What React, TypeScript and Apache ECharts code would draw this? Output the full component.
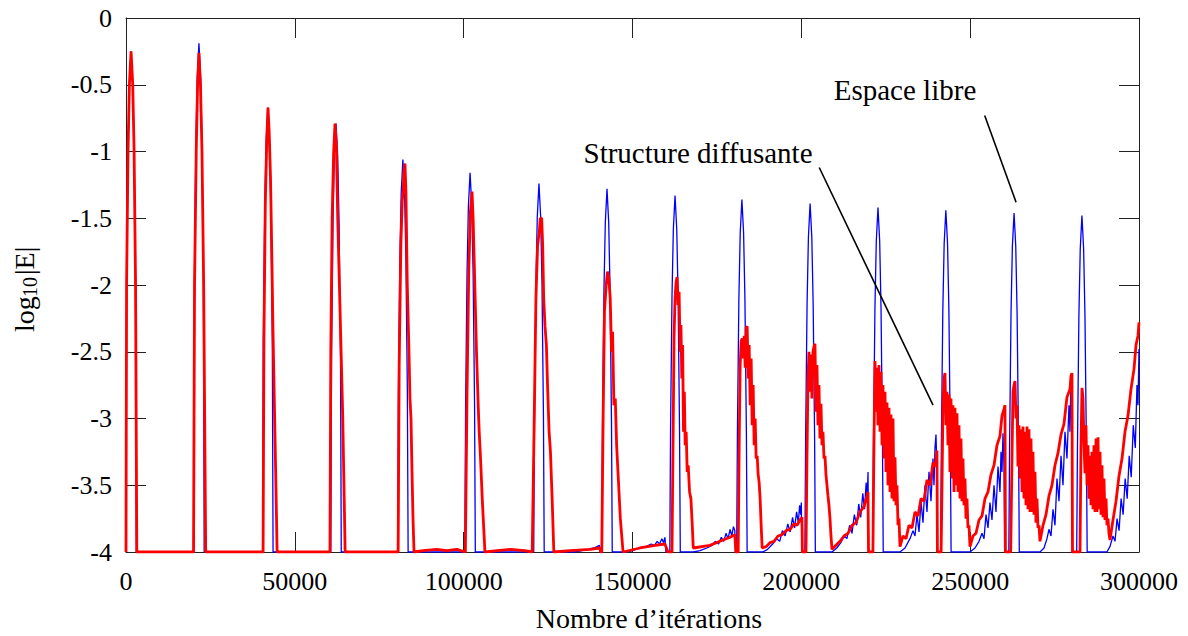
import React, { useEffect, useRef } from "react";
import * as echarts from "echarts";

// Axis ranges / ticks
const xMin = 0;
const xMax = 300000;
const xStep = 50000;
const yMin = -4;
const yMax = 0;
const yStep = 0.5;

// Annotation texts
const labelStructure = "Structure diffusante";
const labelEspace = "Espace libre";
const xAxisTitle = "Nombre d’itérations";

// Annotation anchor points (data coords): [textX, textY, lineStartX, lineStartY, lineEndX, lineEndY]
const annotStructure = [169400, -1.01, 205300, -1.12, 239000, -2.9];
const annotEspace = [230700, -0.54, 254300, -0.73, 263600, -1.38];

// Espace libre (blue)
const espaceLibre: [number, number][] = [
  [0, -4], [170, -2.0], [600, -1.0], [1000, -0.5], [1500, -0.25], [2000, -0.5], [2400, -1.0], [2830, -2.0], [3050, -4],
  [20050, -4], [20270, -1.94], [20700, -0.94], [21100, -0.44], [21600, -0.19], [22100, -0.44], [22500, -0.94], [22930, -1.94], [23150, -4],
  [40450, -4], [40670, -2.42], [41100, -1.42], [41500, -0.92], [42000, -0.67], [42500, -0.92], [42900, -1.42], [43330, -2.42], [43550, -4],
  [60650, -4], [60870, -2.54], [61300, -1.54], [61700, -1.04], [62200, -0.79], [62700, -1.04], [63100, -1.54], [63530, -2.54], [63750, -4],
  [80450, -4], [80670, -2.81], [81100, -1.81], [81500, -1.31], [82000, -1.06], [82500, -1.31], [82900, -1.81], [83330, -2.81], [83550, -4],
  [100350, -4], [100570, -2.91], [101000, -1.91], [101400, -1.41], [101900, -1.16], [102400, -1.41], [102800, -1.91], [103230, -2.91], [103450, -4],
  [120750, -4], [120970, -2.99], [121400, -1.99], [121800, -1.49], [122300, -1.24], [122800, -1.49], [123200, -1.99], [123630, -2.99], [123850, -4],
  [133000, -4], [135000, -3.99], [137000, -3.98], [138500, -3.97], [139500, -3.96], [140200, -3.95], [140400, -4],
  [140900, -4], [141120, -3.03], [141550, -2.03], [141950, -1.53], [142450, -1.28], [142950, -1.53], [143350, -2.03], [143780, -3.03], [144000, -4],
  [148400, -4], [150000, -3.99], [152000, -3.97], [154000, -3.96], [155500, -3.94], [156500, -3.95], [157300, -3.92], [158000, -3.94], [158700, -3.9], [159200, -3.93], [159600, -3.89], [159900, -4],
  [161050, -4], [161270, -3.08], [161700, -2.08], [162100, -1.58], [162600, -1.33], [163100, -1.58], [163500, -2.08], [163930, -3.08], [164150, -4],
  [168000, -4], [170000, -3.99], [172000, -3.97], [173500, -3.95], [174500, -3.92], [175500, -3.94], [176300, -3.89], [177000, -3.92], [177700, -3.86], [178300, -3.9], [178900, -3.83], [179400, -3.88], [179900, -3.81], [180300, -3.84], [180500, -4],
  [180850, -4], [181070, -3.11], [181500, -2.11], [181900, -1.61], [182400, -1.36], [182900, -1.61], [183300, -2.11], [183730, -3.11], [183950, -4],
  [188600, -4], [190000, -3.98], [191500, -3.94], [192700, -3.9], [193600, -3.92], [194400, -3.84], [195200, -3.88], [196000, -3.79], [196700, -3.85], [197400, -3.74], [198000, -3.82], [198600, -3.7], [199100, -3.78], [199500, -3.65], [199800, -3.72], [200000, -3.63], [200150, -4],
  [201050, -4], [201270, -3.14], [201700, -2.14], [202100, -1.64], [202600, -1.39], [203100, -1.64], [203500, -2.14], [203930, -3.14], [204150, -4],
  [209100, -4], [210500, -3.97], [211700, -3.93], [212700, -3.88], [213500, -3.9], [214300, -3.8], [215000, -3.86], [215700, -3.72], [216400, -3.8], [217000, -3.64], [217600, -3.74], [218200, -3.56], [218700, -3.68], [219200, -3.48], [219500, -3.62], [219750, -3.4], [219900, -4],
  [221150, -4], [221370, -3.17], [221800, -2.17], [222200, -1.67], [222700, -1.42], [223200, -1.67], [223600, -2.17], [224030, -3.17], [224250, -4],
  [229220, -4], [230700, -3.97], [232180, -3.9], [233070, -3.84], [233660, -3.88], [234250, -3.72], [234850, -3.85], [235440, -3.62], [236030, -3.78], [236620, -3.5], [237210, -3.7], [237810, -3.4], [238400, -3.62], [238990, -3.3], [239290, -3.5], [239580, -3.22], [239880, -3.12], [240170, -3.4], [240300, -4],
  [241250, -4], [241470, -3.19], [241900, -2.19], [242300, -1.69], [242800, -1.44], [243300, -1.69], [243700, -2.19], [244130, -3.19], [244350, -4],
  [249950, -4], [251430, -3.97], [252620, -3.92], [253500, -3.86], [254100, -3.9], [254690, -3.72], [255280, -3.82], [255870, -3.63], [256460, -3.76], [257060, -3.5], [257650, -3.7], [258240, -3.36], [258830, -3.55], [259130, -3.25], [259420, -3.4], [259720, -3.11], [260010, -3.35], [260200, -4],
  [261450, -4], [261670, -3.21], [262100, -2.21], [262500, -1.71], [263000, -1.46], [263500, -1.71], [263900, -2.21], [264330, -3.21], [264550, -4],
  [270680, -4], [271870, -3.97], [272750, -3.9], [273340, -3.83], [273940, -3.88], [274530, -3.68], [275120, -3.8], [275710, -3.45], [276310, -3.62], [276900, -3.28], [277490, -3.5], [278080, -3.1], [278670, -3.3], [279270, -2.9], [279560, -3.1], [279860, -2.68], [280150, -3.2], [280300, -4],
  [281550, -4], [281770, -3.23], [282200, -2.23], [282600, -1.73], [283100, -1.48], [283600, -1.73], [284000, -2.23], [284430, -3.23], [284650, -4],
  [290500, -4], [291400, -3.96], [292300, -3.88], [292900, -3.92], [293500, -3.75], [294100, -3.84], [294700, -3.6], [295300, -3.72], [295900, -3.45], [296500, -3.6], [297100, -3.28], [297700, -3.44], [298300, -3.05], [298900, -3.22], [299400, -2.75], [299700, -2.9], [300000, -2.48],
];

// Structure diffusante (red)
const structureDiffusante: [number, number][] = [
  [0, -4], [170, -2.0], [600, -1.0], [1000, -0.5], [1500, -0.25], [2000, -0.5], [2400, -1.0], [2830, -2.0], [3200, -4],
  [20000, -4], [20300, -2.0], [20800, -1.0], [21200, -0.5], [21600, -0.26], [22050, -0.5], [22500, -1.0], [23000, -2.0], [23300, -3.0], [23600, -4],
  [40600, -4], [40850, -2.4], [41250, -1.4], [41700, -0.9], [42050, -0.67], [42400, -0.85], [42800, -1.2], [43200, -1.8], [43500, -2.3], [43800, -2.7], [44100, -3.1], [44400, -3.5], [44750, -4],
  [60400, -4], [60650, -2.5], [61050, -1.5], [61500, -1.0], [61900, -0.79], [62300, -0.95], [62700, -1.5], [63200, -2.0], [63700, -2.5], [64200, -3.0], [64550, -3.5], [64900, -4],
  [80600, -4], [80900, -2.6], [81400, -1.7], [81800, -1.37], [82100, -1.3], [82300, -1.15], [82620, -1.09], [82900, -1.3], [83300, -2.0], [83800, -2.5], [84100, -2.85], [84400, -3.0], [84700, -3.4], [85000, -3.75], [85300, -4],
  [88000, -3.99], [92000, -3.98], [95000, -3.99], [98000, -3.98], [100500, -4],
  [100700, -4], [101000, -2.8], [101500, -1.9], [102000, -1.45], [102470, -1.3], [102800, -1.5], [103300, -2.0], [103800, -2.5], [104300, -2.9], [104600, -3.1], [105000, -3.3], [105500, -3.6], [106300, -4],
  [110000, -3.99], [114000, -3.98], [118000, -3.99], [120300, -4],
  [120500, -4], [120900, -3.0], [121400, -2.1], [121900, -1.7], [122400, -1.6], [122700, -1.5], [123100, -1.5], [123400, -1.7], [123700, -2.1], [124100, -2.31], [124500, -2.45], [124900, -2.8], [125300, -3.1], [125700, -3.25], [126200, -3.6], [126700, -4],
  [131500, -3.99], [137400, -3.98], [140300, -3.97], [140600, -4],
  [140900, -4], [141300, -3.0], [141700, -2.2], [142200, -2.0], [142600, -1.9], [143000, -1.95], [143400, -2.1], [143800, -2.5], [144100, -2.35], [144500, -2.9], [144900, -2.85], [145300, -3.2], [145700, -3.4], [146400, -3.75], [147200, -4],
  [152200, -3.97], [156700, -3.95], [159600, -3.94], [160500, -4],
  [161700, -4], [162000, -3.2], [162300, -2.4], [162600, -2.1], [162900, -1.98], [163200, -1.94], [163500, -2.15], [163800, -2.05], [164100, -2.5], [164350, -2.3], [164600, -2.7], [164850, -2.45], [165100, -3.1], [165350, -2.8], [165600, -3.2], [165900, -3.1], [166200, -3.4], [166500, -3.35], [166900, -3.55], [167300, -3.6], [167700, -3.8], [168000, -3.97],
  [172900, -3.95], [175900, -3.92], [178900, -3.89], [180300, -3.87], [180600, -4],
  [181300, -4], [181590, -3.2], [181890, -2.6], [182180, -2.42], [182480, -2.4], [182780, -2.55], [183070, -2.38], [183370, -2.62], [183660, -2.32], [183960, -2.31], [184260, -2.7], [184550, -2.45], [184850, -2.9], [185140, -2.55], [185440, -3.05], [185740, -2.75], [186030, -3.2], [186330, -3.0], [186620, -3.3], [186920, -3.28], [187220, -3.42], [187510, -3.48], [187810, -3.61], [188100, -3.8], [188400, -3.97],
  [189540, -3.96], [190720, -3.93], [191910, -3.92], [193090, -3.88], [194280, -3.87], [195460, -3.84], [196640, -3.83], [197830, -3.79], [198720, -3.8], [199600, -3.76], [200190, -3.74], [200300, -4],
  [201380, -4], [201670, -3.3], [201970, -2.7], [202260, -2.5], [202560, -2.8], [202860, -2.52], [203150, -2.85], [203450, -2.5], [203750, -2.46], [204040, -2.44], [204340, -2.95], [204630, -2.6], [204930, -3.05], [205230, -2.75], [205520, -3.15], [205820, -2.89], [206120, -3.2], [206410, -3.1], [206710, -3.3], [207000, -3.28], [207300, -3.42], [207600, -3.5], [207890, -3.58], [208190, -3.65], [208490, -3.75], [208780, -3.88], [209080, -3.98],
  [210260, -3.95], [211450, -3.92], [212630, -3.88], [213820, -3.86], [215000, -3.8], [216190, -3.78], [217370, -3.7], [218560, -3.66], [219450, -3.58], [219740, -3.55], [219900, -4],
  [221200, -4], [221500, -3.2], [221820, -2.57], [222110, -2.95], [222410, -2.62], [222700, -3.05], [223000, -2.6], [223300, -3.1], [223590, -2.65], [223890, -3.2], [224180, -2.75], [224480, -3.3], [224780, -2.8], [225070, -3.4], [225370, -2.88], [225670, -3.5], [225960, -2.92], [226260, -3.55], [226550, -2.97], [226850, -3.6], [227150, -3.0], [227440, -3.62], [227740, -3.29], [228040, -3.65], [228330, -3.5], [228630, -3.8], [228920, -3.75], [229220, -3.96],
  [230110, -3.88], [231000, -3.9], [231880, -3.8], [232770, -3.82], [233660, -3.7], [234550, -3.73], [235440, -3.6], [236320, -3.62], [237210, -3.46], [238100, -3.5], [238990, -3.33], [239580, -3.36], [240170, -3.24], [240300, -4],
  [241400, -4], [241660, -3.5], [241950, -2.9], [242250, -2.7], [242540, -2.66], [242840, -3.05], [243140, -2.8], [243430, -3.2], [243730, -2.82], [244020, -3.4], [244320, -2.85], [244620, -3.45], [244910, -2.9], [245210, -3.55], [245500, -2.92], [245800, -3.5], [246100, -2.96], [246390, -3.55], [246690, -3.05], [246990, -3.6], [247280, -3.15], [247580, -3.62], [247870, -3.3], [248170, -3.65], [248470, -3.45], [248760, -3.75], [249060, -3.6], [249350, -3.82], [249650, -3.8], [249950, -3.96],
  [250840, -3.88], [251730, -3.86], [252620, -3.76], [253500, -3.73], [254390, -3.6], [255280, -3.55], [256170, -3.42], [257060, -3.35], [257940, -3.2], [258830, -3.13], [259420, -2.98], [260010, -2.93], [260310, -2.9], [260450, -4],
  [262000, -4], [262390, -3.3], [262680, -2.8], [262980, -2.75], [263280, -2.72], [263570, -3.0], [263870, -2.9], [264160, -3.36], [264460, -3.05], [264760, -3.45], [265050, -3.08], [265350, -3.55], [265640, -3.06], [265940, -3.6], [266240, -3.1], [266530, -3.65], [266830, -3.06], [267120, -3.68], [267420, -3.08], [267720, -3.7], [268010, -3.15], [268310, -3.7], [268600, -3.25], [268900, -3.72], [269200, -3.4], [269490, -3.78], [269790, -3.6], [270090, -3.82], [270380, -3.8], [270680, -3.92],
  [271570, -3.8], [272460, -3.72], [273340, -3.58], [274230, -3.5], [275120, -3.35], [276010, -3.26], [276900, -3.12], [277790, -3.04], [278670, -2.84], [279560, -2.78], [279860, -2.68], [280150, -2.66], [280300, -4],
  [282530, -4], [282820, -3.2], [283120, -2.77], [283420, -2.85], [283710, -3.2], [284010, -3.41], [284300, -3.05], [284600, -3.5], [284900, -3.2], [285190, -3.6], [285490, -3.28], [285780, -3.65], [286080, -3.25], [286380, -3.68], [286670, -3.2], [286970, -3.7], [287270, -3.15], [287560, -3.7], [287860, -3.14], [288150, -3.68], [288450, -3.25], [288750, -3.72], [289040, -3.35], [289340, -3.74], [289630, -3.45], [289930, -3.76], [290230, -3.6], [290520, -3.8], [290820, -3.75], [291110, -3.86], [291410, -3.91],
  [292300, -3.76], [293190, -3.62], [294080, -3.43], [294970, -3.3], [295850, -3.1], [296740, -2.98], [297630, -2.78], [298520, -2.63], [299110, -2.45], [299700, -2.38], [300000, -2.28],
];

const SERIF = "'Liberation Serif', 'DejaVu Serif', serif";

export default function App() {
  const ref = useRef<HTMLDivElement>(null);

  useEffect(() => {
    document.body.style.margin = "0";
    if (!ref.current) return;
    const chart = echarts.init(ref.current, undefined, { renderer: "svg" });

    const frameColor = "#222";
    const baseAxisX = {
      type: "value" as const,
      min: xMin,
      max: xMax,
      interval: xStep,
      splitLine: { show: false },
      axisLine: { show: true, onZero: false, lineStyle: { color: frameColor, width: 1 } },
      axisTick: { show: true, inside: true, length: 20, lineStyle: { color: frameColor, width: 1 } },
    };
    const baseAxisY = {
      type: "value" as const,
      min: yMin,
      max: yMax,
      interval: yStep,
      splitLine: { show: false },
      axisLine: { show: true, onZero: false, lineStyle: { color: frameColor, width: 1 } },
      axisTick: { show: true, inside: true, length: 20, lineStyle: { color: frameColor, width: 1 } },
    };

    chart.setOption({
      animation: false,
      backgroundColor: "#ffffff",
      grid: { left: 126, right: 49, top: 18, bottom: 84, containLabel: false },
      xAxis: [
        {
          ...baseAxisX,
          position: "bottom",
          axisLabel: {
            show: true,
            margin: 16,
            color: "#000",
            fontFamily: SERIF,
            fontSize: 26,
            formatter: (v: number) => String(v),
          },
        },
        { ...baseAxisX, position: "top", axisLabel: { show: false } },
      ],
      yAxis: [
        {
          ...baseAxisY,
          position: "left",
          axisLabel: {
            show: true,
            margin: 14,
            color: "#000",
            fontFamily: SERIF,
            fontSize: 26,
            formatter: (v: number) => String(v),
          },
        },
        { ...baseAxisY, position: "right", axisLabel: { show: false } },
      ],
      series: [
        {
          name: labelEspace,
          type: "line",
          xAxisIndex: 0,
          yAxisIndex: 0,
          data: espaceLibre,
          showSymbol: false,
          symbol: "none",
          lineStyle: { color: "#0000ff", width: 1.3 },
          clip: true,
          z: 2,
        },
        {
          name: labelStructure,
          type: "line",
          xAxisIndex: 0,
          yAxisIndex: 0,
          data: structureDiffusante,
          showSymbol: false,
          symbol: "none",
          lineStyle: { color: "#ff0000", width: 2.8 },
          clip: true,
          z: 3,
        },
      ],
    });

    const px = (x: number, y: number) =>
      chart.convertToPixel({ xAxisIndex: 0, yAxisIndex: 0 }, [x, y]) as number[];

    const sT = px(annotStructure[0], annotStructure[1]);
    const s1 = px(annotStructure[2], annotStructure[3]);
    const s2 = px(annotStructure[4], annotStructure[5]);
    const eT = px(annotEspace[0], annotEspace[1]);
    const e1 = px(annotEspace[2], annotEspace[3]);
    const e2 = px(annotEspace[4], annotEspace[5]);

    const textStyle = (text: string, size: number) => ({
      text,
      font: `${size}px ${SERIF}`,
      fill: "#000",
      textAlign: "center",
      textVerticalAlign: "middle",
      align: "center",
      verticalAlign: "middle",
    });

    chart.setOption({
      graphic: [
        { type: "text", x: sT[0], y: sT[1], style: textStyle(labelStructure, 29), z: 10 },
        { type: "text", x: eT[0], y: eT[1], style: textStyle(labelEspace, 29), z: 10 },
        {
          type: "line",
          shape: { x1: s1[0], y1: s1[1], x2: s2[0], y2: s2[1] },
          style: { stroke: "#000", lineWidth: 1.6 },
          z: 10,
        },
        {
          type: "line",
          shape: { x1: e1[0], y1: e1[1], x2: e2[0], y2: e2[1] },
          style: { stroke: "#000", lineWidth: 1.6 },
          z: 10,
        },
        { type: "text", x: 649, y: 618, style: textStyle(xAxisTitle, 28), z: 10 },
        {
          type: "group",
          x: 24,
          y: 288,
          rotation: Math.PI / 2,
          children: [
            {
              type: "text",
              x: -44,
              y: 0,
              style: { text: "log", font: `28px ${SERIF}`, fill: "#000", textAlign: "left", textVerticalAlign: "middle", align: "left", verticalAlign: "middle" },
            },
            {
              type: "text",
              x: -9,
              y: 6,
              style: { text: "10", font: `20px ${SERIF}`, fill: "#000", textAlign: "left", textVerticalAlign: "middle", align: "left", verticalAlign: "middle" },
            },
            {
              type: "text",
              x: 13,
              y: 0,
              style: { text: "|E|", font: `28px ${SERIF}`, fill: "#000", textAlign: "left", textVerticalAlign: "middle", align: "left", verticalAlign: "middle" },
            },
          ],
        },
      ],
    });

    return () => {
      chart.dispose();
    };
  }, []);

  return <div ref={ref} style={{ width: 1188, height: 636 }} />;
}
